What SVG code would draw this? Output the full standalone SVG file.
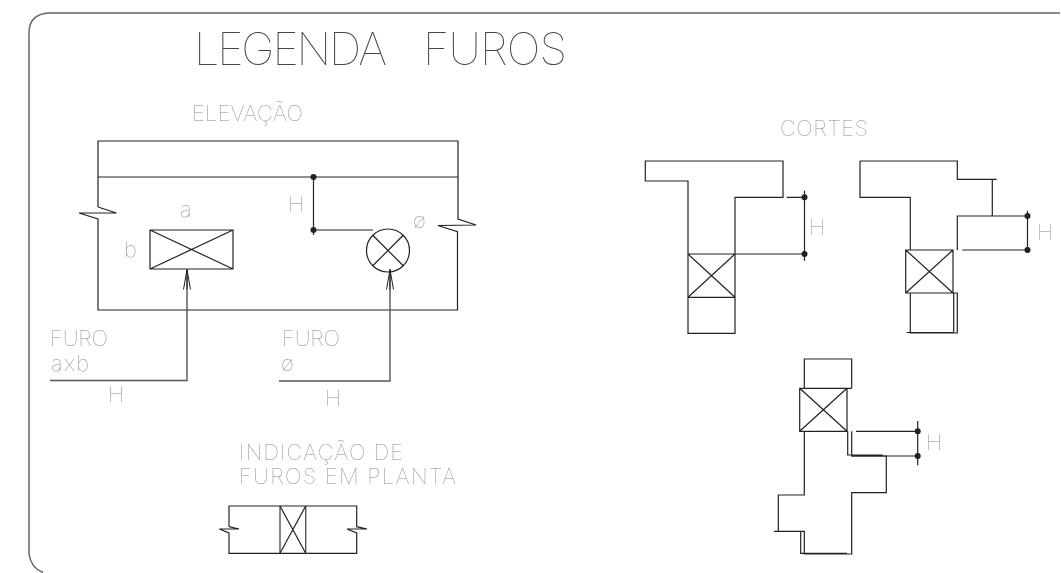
<svg xmlns="http://www.w3.org/2000/svg" width="1061" height="573" viewBox="0 0 1061 573">
<style>
.l{fill:none;stroke:#222;stroke-width:1.2;stroke-linejoin:miter}
.g{fill:none;stroke:#555;stroke-width:1.4}
.f{fill:none;stroke:#666;stroke-width:1.5}
.t{font-family:"Inter","Liberation Sans",sans-serif;font-weight:100;fill:#888;font-size:22px;filter:url(#gray)}
.h{font-size:45px;fill:#444}
.d{fill:#222;stroke:none}
</style>
<defs>
<filter id="gray" x="-20%" y="-40%" width="140%" height="180%" color-interpolation-filters="sRGB"><feOffset dx="0" dy="0"/></filter>
<marker id="arr" markerUnits="userSpaceOnUse" markerWidth="24" markerHeight="10" refX="23" refY="5" orient="auto" viewBox="0 0 24 10"><path d="M23 5 L3 1.500 M23 5 L3 8.500 M23 5 L3 5" fill="none" stroke="#222" stroke-width="1"/></marker>
<g id="dot"><circle r="3" class="d"/></g>
</defs>
<rect width="1061" height="573" fill="#fff"/>
<g id="frame"><path class="f" d="M1060 13 H49 Q29 14 29 33 V554 Q31 568 43 572.500"/></g>
<g id="title"><text class="t h" y="65"><tspan x="194" textLength="193" lengthAdjust="spacing">LEGENDA</tspan> <tspan x="423" textLength="144" lengthAdjust="spacing">FUROS</tspan></text></g>
<g id="elevacao">
<text class="t" x="192" y="121" textLength="111" lengthAdjust="spacing">ELEVAÇÃO</text>
<path class="l" d="M98 177 H458 M98 207 V141 H458 V219 L476 225 L438 225.500 L457.500 231.700 V310 H98 V219 L79 213 H116.500 L98 207"/>
</g>
<g id="furo-rect">
<path class="l" d="M150 230 H233 V269 H150 Z M150 230 L233 269 M150 269 L233 230"/>
<text class="t" x="180" y="217">a</text>
<text class="t" x="124" y="257">b</text>
</g>
<g id="furo-circ">
<circle class="l" cx="388" cy="250.500" r="21.500"/>
<path class="l" d="M373 235.500 L403 265.500 M373 265.500 L403 235.500"/>
<text class="t" x="413" y="228">ø</text>
</g>
<g id="labels-elevacao">
<text class="t" x="288" y="212">H</text>
<text class="t" x="50" y="346" textLength="58" lengthAdjust="spacing">FURO</text>
<text class="t" x="51" y="371" textLength="38" lengthAdjust="spacing">axb</text>
<text class="t" x="108" y="402">H</text>
<text class="t" x="282" y="346" textLength="58" lengthAdjust="spacing">FURO</text>
<text class="t" x="281" y="371">ø</text>
<text class="t" x="325" y="406">H</text>
</g>
<g id="planta">
<text class="t" x="239" y="460" textLength="164" lengthAdjust="spacing">INDICAÇÃO  DE</text>
<text class="t" x="239" y="484" textLength="217" lengthAdjust="spacing">FUROS  EM  PLANTA</text>
<path class="l" d="M229 526.700 V506 H356.700 V526.700 L367 529 L347 529 L356.700 533 V553.300 H229 V533 L219.300 529 L239 529 L229 526.700"/>
<path class="g" d="M280 506 V553.300 M305.700 506 V553.300"/>
<path class="l" d="M280 506 L305.700 553.300 M280 553.300 L305.700 506"/>
</g>
<g id="cortes-titulo"><text class="t" x="780" y="136" textLength="88" lengthAdjust="spacing">CORTES</text></g>
<g id="corte-1">
<path class="l" d="M645.300 161 H783 V197.300 H735 V333.300 H688 V181 H645.300 Z"/>
<path class="l" d="M688 254 H735 M688 297.300 H735 M688 254 L735 297.300 M688 297.300 L735 254"/>
<text class="t" x="809" y="235">H</text>
</g>
<g id="corte-2">
<path class="l" d="M860 161 H957.300 V179.300 H996.700 M992.300 179.300 V216 M957.300 250 V216 H1027.500 M860 161 V197.300 H910.300 V250"/>
<path class="l" d="M905.700 250 H953 V293 H905.700 Z M905.700 250 L953 293 M905.700 293 L953 250"/>
<path class="l" d="M910.300 293 V333 H957.300 V293 H953 M953.700 293 V332.500 M906.700 332.500 H953.700"/>
<text class="t" x="1037" y="240">H</text>
</g>
<g id="corte-3">
<path class="l" d="M804.300 388.300 V359 H851.700 V388.300"/>
<path class="l" d="M799.700 388.300 H851.700 M799.700 388.300 H847 V431.300 H799.700 Z M799.700 388.300 L847 431.300 M799.700 431.300 L847 388.300"/>
<path class="l" d="M847.700 431.300 V455 H882.700 M851.700 431.300 V456 H886.300 V492.700 H851.700 V554 H804.300 V531.300 H774 M800.700 531.300 V553.300 H847 M778.300 531.300 V495 H804.300 V431.300"/>
<text class="t" x="926" y="450">H</text>
</g>
<g id="connectors">
<path class="l" d="M313.500 177 V235 M313.500 230 H373"/>
<path class="g" d="M50 380.500 H187 V269.500" marker-end="url(#arr)"/>
<path class="g" d="M279 381 H390 V269.500" marker-end="url(#arr)"/>
<path class="l" d="M786.700 197.300 H804.500 M735 254 H804.500 M804.500 190.700 V260.700"/>
<path class="l" d="M962.300 250 H1027.500 M1027.500 210.700 V253"/>
<path class="l" d="M856 431.300 H917.700 M851.700 456 H917.700 M917.700 421 V465.300"/>
<use href="#dot" x="313.500" y="177"/><use href="#dot" x="313.500" y="230"/>
<use href="#dot" x="804.500" y="197.300"/><use href="#dot" x="804.500" y="254"/>
<use href="#dot" x="1027.500" y="216"/><use href="#dot" x="1027.500" y="250"/>
<use href="#dot" x="917.700" y="431.300"/><use href="#dot" x="917.700" y="456"/>
</g>
</svg>
